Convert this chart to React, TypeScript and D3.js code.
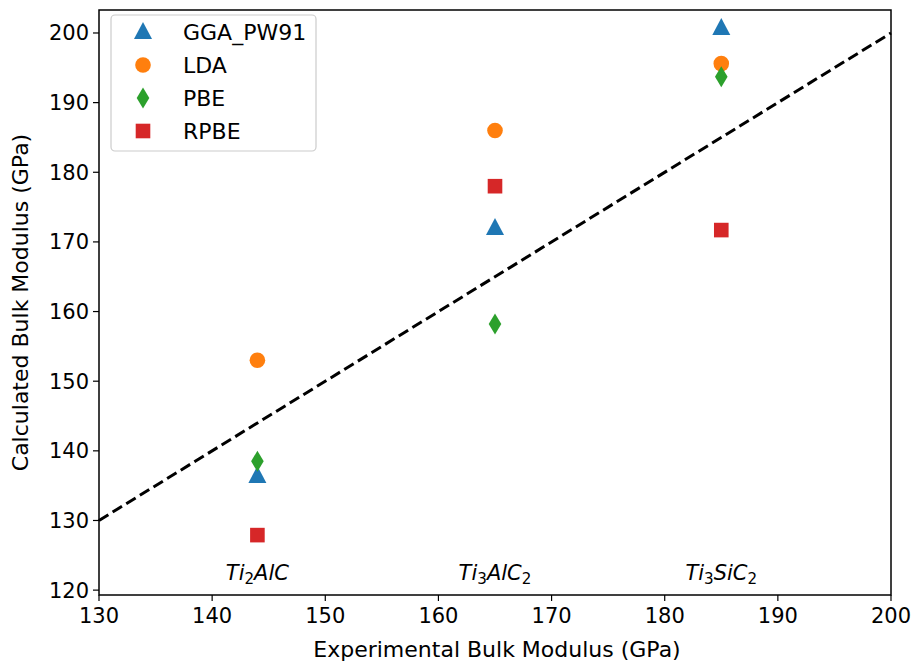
import React from "react";
import * as d3 from "d3";

const materials = ["Ti2AlC", "Ti3AlC2", "Ti3SiC2"];
const experimental = [144, 165, 185];
const ggaPW91 = [136.4, 172.0, 200.7];
const lda = [153.0, 186.0, 195.6];
const pbe = [138.5, 158.2, 193.7];
const rpbe = [127.9, 178.0, 171.7];
const xTicks = [130, 140, 150, 160, 170, 180, 190, 200];
const yTicks = [120, 130, 140, 150, 160, 170, 180, 190, 200];
const labelY = 122.4;

const series = [
  { name: "GGA_PW91", values: ggaPW91, color: "#1f77b4", shape: "triangle" },
  { name: "LDA", values: lda, color: "#ff7f0e", shape: "circle" },
  { name: "PBE", values: pbe, color: "#2ca02c", shape: "diamond" },
  { name: "RPBE", values: rpbe, color: "#d62728", shape: "square" },
];

const W = 916, H = 669;
const L = 99, R = 891, T = 10, B = 595;
const FONT = "DejaVu Sans, sans-serif";
const FS = 21;
const FL = 22;

function Marker({ shape, x, y, color }: { shape: string; x: number; y: number; color: string }) {
  if (shape === "circle") return <circle cx={x} cy={y} r={7.8} fill={color} />;
  if (shape === "square") return <rect x={x - 7.3} y={y - 7.3} width={14.6} height={14.6} fill={color} />;
  if (shape === "triangle")
    return <path d={`M${x},${y - 10}L${x + 9},${y + 7}L${x - 9},${y + 7}Z`} fill={color} />;
  return <path d={`M${x},${y - 10.5}L${x + 6.3},${y}L${x},${y + 10.5}L${x - 6.3},${y}Z`} fill={color} />;
}

function Formula({ name, x, y }: { name: string; x: number; y: number }) {
  const parts = name.split(/(\d)/).filter((s) => s.length);
  return (
    <text x={x} y={y} textAnchor="middle" fontFamily={FONT} fontStyle="italic" fontSize={FS} fill="#000">
      {parts.map((p, i) =>
        /\d/.test(p) ? (
          <tspan key={i} fontStyle="normal" fontSize={FS * 0.72} dy={4}>{p}</tspan>
        ) : (
          <tspan key={i} dy={i > 0 && /\d/.test(parts[i - 1]) ? -4 : 0}>{p}</tspan>
        )
      )}
    </text>
  );
}

export default function App() {
  const x = d3.scaleLinear().domain([130, 200]).range([L, R]);
  const y = d3.scaleLinear().domain([119.3, 203.3]).range([B, T]);
  const line = d3.line<number>().x((d) => x(d)).y((d) => y(d));

  return (
    <svg width={W} height={H} style={{ position: "absolute", left: 0, top: 0, background: "#fff" }}>
      <rect width={W} height={H} fill="#fff" />
      <path d={line([130, 200]) || ""} stroke="#000" strokeWidth={3} strokeDasharray="11,5" fill="none" />
      {series.map((s) =>
        s.values.map((v, i) => (
          <Marker key={s.name + i} shape={s.shape} x={x(experimental[i])} y={y(v)} color={s.color} />
        ))
      )}
      {materials.map((m, i) => (
        <Formula key={m} name={m} x={x(experimental[i])} y={y(labelY) + 7} />
      ))}
      <rect x={L} y={T} width={R - L} height={B - T} fill="none" stroke="#000" strokeWidth={1.5} />
      {xTicks.map((t) => (
        <g key={t}>
          <line x1={x(t)} x2={x(t)} y1={B} y2={B + 6} stroke="#000" strokeWidth={1.2} />
          <text x={x(t)} y={B + 28} textAnchor="middle" fontFamily={FONT} fontSize={FS}>{t}</text>
        </g>
      ))}
      {yTicks.map((t) => (
        <g key={t}>
          <line x1={L - 6} x2={L} y1={y(t)} y2={y(t)} stroke="#000" strokeWidth={1.2} />
          <text x={L - 10} y={y(t) + 7.5} textAnchor="end" fontFamily={FONT} fontSize={FS}>{t}</text>
        </g>
      ))}
      <text x={(L + R) / 2 + 2} y={657} textAnchor="middle" fontFamily={FONT} fontSize={FL}>
        Experimental Bulk Modulus (GPa)
      </text>
      <text
        transform={`translate(28,${(T + B) / 2}) rotate(-90)`}
        textAnchor="middle"
        fontFamily={FONT}
        fontSize={FL}
      >
        Calculated Bulk Modulus (GPa)
      </text>
      <rect x={111} y={15} width={205} height={136} rx={4} fill="#fff" fillOpacity={0.8} stroke="#ccc" strokeWidth={1.2} />
      {series.map((s, i) => (
        <g key={s.name}>
          <Marker shape={s.shape} x={143} y={32 + i * 33} color={s.color} />
          <text x={183} y={32 + i * 33 + 7.5} fontFamily={FONT} fontSize={FL}>{s.name}</text>
        </g>
      ))}
    </svg>
  );
}
